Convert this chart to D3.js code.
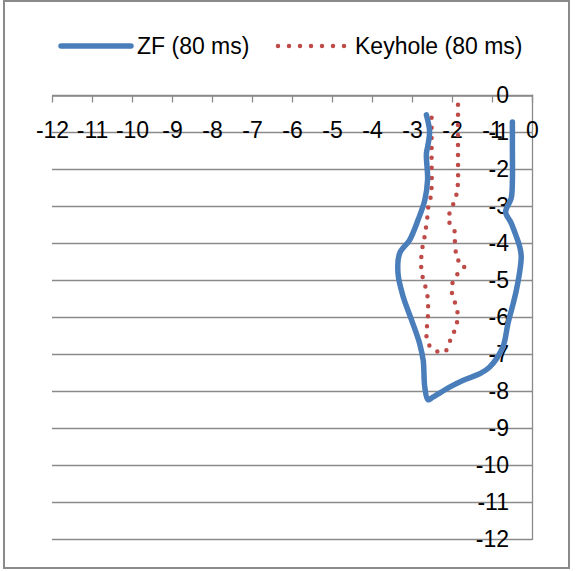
<!DOCTYPE html>
<html>
<head>
<meta charset="utf-8">
<script src="https://cdn.jsdelivr.net/npm/d3@7"></script>
<style>
  html, body { margin: 0; padding: 0; background: #fff; }
  svg { display: block; }
  text { font-family: "Liberation Sans", Arial, sans-serif; fill: #000; }
</style>
</head>
<body>
<svg id="chart" width="588" height="571"></svg>
<script>
// ---- Data ----
const xTicks = [-12, -11, -10, -9, -8, -7, -6, -5, -4, -3, -2, -1, 0];
const yTicks = [0, -1, -2, -3, -4, -5, -6, -7, -8, -9, -10, -11, -12];
const seriesNames = ["ZF (80 ms)", "Keyhole (80 ms)"];

const zfX = [-0.49, -0.49, -0.49, -0.52, -0.66, -0.52, -0.39, -0.31, -0.27, -0.39, -0.6, -0.73, -1.06, -1.31, -1.73, -2.06, -2.48, -2.6, -2.68, -2.72, -2.81, -3.01, -3.22, -3.35, -3.31, -3.06, -2.85, -2.68, -2.61, -2.64, -2.6, -2.56, -2.64];
const zfY = [-0.74, -1.5, -2.3, -2.8, -3.17, -3.47, -3.84, -4.1, -4.38, -5.28, -6.18, -6.82, -7.36, -7.54, -7.72, -7.9, -8.17, -8.24, -7.9, -7.18, -6.72, -6.09, -5.46, -4.83, -4.29, -3.93, -3.39, -2.85, -2.3, -1.6, -1.36, -1.0, -0.55];

const khX = [-1.85, -1.85, -1.85, -1.85, -1.87, -1.93, -2.03, -2.1, -1.95, -1.93, -1.9, -1.87, -1.68, -1.85, -1.98, -2.0, -1.92, -1.86, -1.88, -1.95, -2.07, -2.18, -2.39, -2.6, -2.64, -2.61, -2.6, -2.6, -2.63, -2.7, -2.76, -2.77, -2.75, -2.7, -2.66, -2.62, -2.6, -2.54, -2.51, -2.51, -2.51, -2.51];
const khY = [-0.28, -1.0, -1.7, -2.3, -2.6, -2.85, -3.12, -3.39, -3.62, -3.93, -4.3, -4.45, -4.61, -4.83, -5.06, -5.37, -5.64, -5.91, -6.18, -6.41, -6.7, -6.95, -6.93, -6.72, -6.41, -6.14, -5.87, -5.6, -5.33, -5.06, -4.79, -4.47, -4.2, -3.93, -3.66, -3.35, -3.08, -2.81, -2.49, -1.8, -1.2, -0.53];

// ---- Chart ----
const svg = d3.select("#chart");
const blue = "#4A7EBB", red = "#BE4B48", grid = "#8a8a8a";
const fs = "23px";
const fmt = d => String(d); // plain hyphen-minus as in the reference

svg.append("rect").attr("x", 4).attr("y", 1).attr("width", 565).attr("height", 567)
  .attr("fill", "#fff").attr("stroke", grid).attr("stroke-width", 2);

const x = d3.scaleLinear().domain([-12, 0]).range([52, 532]);
const y = d3.scaleLinear().domain([0, -12]).range([94.5, 539]);

// gridlines
svg.append("g").selectAll("line").data(yTicks).join("line")
  .attr("x1", x(-12)).attr("x2", x(0))
  .attr("y1", d => Math.round(y(d)) + 0.5).attr("y2", d => Math.round(y(d)) + 0.5)
  .attr("stroke", grid).attr("stroke-width", 1.3);

// y axis line at x = 0
svg.append("line").attr("x1", x(0) + 0.5).attr("x2", x(0) + 0.5)
  .attr("y1", y(0)).attr("y2", y(-12) + 1)
  .attr("stroke", grid).attr("stroke-width", 1.3);

// x axis (at y=0, top) with ticks downward
const xAxis = d3.axisBottom(x).tickValues(xTicks).tickSize(7).tickSizeOuter(0).tickFormat(fmt);
const gx = svg.append("g").attr("transform", `translate(0,${Math.round(y(0)) + 0.5})`).call(xAxis);
gx.select(".domain").attr("stroke", grid).attr("stroke-width", 1.3);
gx.selectAll(".tick line").attr("stroke", grid).attr("stroke-width", 1.3);
gx.selectAll(".tick text").attr("y", 0).attr("dy", "42px")
  .style("font-size", fs).style("font-family", "'Liberation Sans', Arial, sans-serif");

// y axis labels
svg.append("g").selectAll("text").data(yTicks).join("text")
  .attr("x", 509).attr("y", d => y(d)).attr("dy", "0.36em")
  .attr("text-anchor", "end").style("font-size", fs)
  .text(fmt);

// lines
const zfData = zfX.map((v, i) => [v, zfY[i]]);
const khData = khX.map((v, i) => [v, khY[i]]);
const line = d3.line().x(d => x(d[0])).y(d => y(d[1])).curve(d3.curveCatmullRom.alpha(0.5));

svg.append("path").datum(khData).attr("d", line)
  .attr("fill", "none").attr("stroke", red).attr("stroke-width", 4.5)
  .attr("stroke-linecap", "round").attr("stroke-dasharray", "0,10");

svg.append("path").datum(zfData).attr("d", line)
  .attr("fill", "none").attr("stroke", blue).attr("stroke-width", 5.5)
  .attr("stroke-linecap", "round").attr("stroke-linejoin", "round");

// legend
const leg = svg.append("g");
leg.append("line").attr("x1", 61).attr("x2", 131).attr("y1", 46).attr("y2", 46)
  .attr("stroke", blue).attr("stroke-width", 5.5).attr("stroke-linecap", "round");
leg.append("text").attr("x", 137).attr("y", 46).attr("dy", "0.36em").style("font-size", fs).text(seriesNames[0]);
leg.append("line").attr("x1", 278).attr("x2", 345).attr("y1", 46).attr("y2", 46)
  .attr("stroke", red).attr("stroke-width", 4.5).attr("stroke-linecap", "round").attr("stroke-dasharray", "0,11");
leg.append("text").attr("x", 355).attr("y", 46).attr("dy", "0.36em").style("font-size", fs).text(seriesNames[1]);
</script>
</body>
</html>
